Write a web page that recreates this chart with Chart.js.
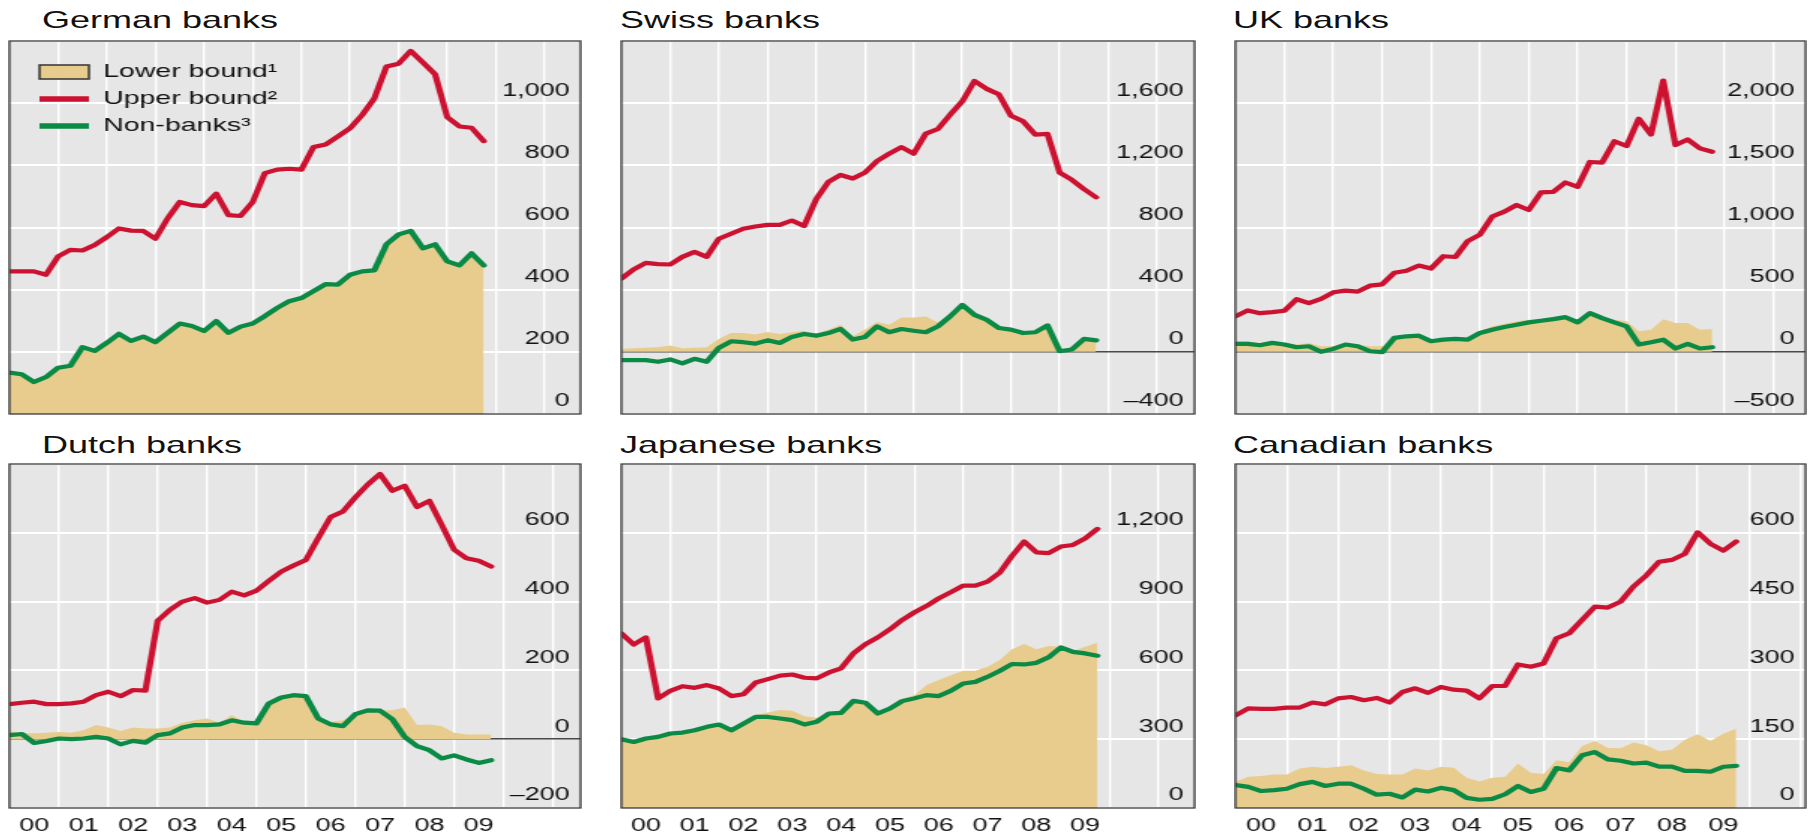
<!DOCTYPE html>
<html>
<head>
<meta charset="utf-8">
<script src="https://cdn.jsdelivr.net/npm/chart.js@4.4.1/dist/chart.umd.min.js"></script>
<style>
  body { margin: 0; background: #fff; overflow: hidden; }
  #page { position: relative; width: 1810px; height: 835px; }
  .ttl {
    position: absolute; font: 24px 'Liberation Sans', Arial, sans-serif; color: #111;
    line-height: 24px; white-space: nowrap; transform-origin: 0 0;
  }
  canvas { position: absolute; }
</style>
</head>
<body>
<div id="page"></div>
<script>
// x axis: quarterly points, years 2000-2009
const yearLabels = ['00', '01', '02', '03', '04', '05', '06', '07', '08', '09'];
const yearBreaks = [1, 2, 3, 4, 5, 6, 7, 8, 9, 10, 11];
const quarterPos = Array.from({ length: 40 }, (_, i) => i / 4);

// German banks
const germanLower = [133, 128, 103, 119, 149, 155, 215, 203, 229, 258, 235, 249, 231, 261, 291, 283, 267, 299, 261, 281, 291, 315, 341, 363, 373, 395, 418, 416, 448, 459, 462, 546, 578, 589, 533, 546, 491, 478, 517, 478];
const germanUpper = [459, 459, 459, 448, 507, 528, 526, 544, 569, 597, 590, 589, 564, 629, 682, 672, 669, 709, 640, 637, 682, 775, 786, 789, 786, 859, 867, 893, 919, 962, 1015, 1118, 1127, 1168, 1131, 1093, 955, 925, 921, 878];
const germanNonBanks = [133, 128, 103, 119, 149, 155, 215, 203, 229, 258, 235, 249, 231, 261, 291, 283, 267, 299, 261, 281, 291, 315, 341, 363, 373, 395, 418, 416, 448, 459, 462, 546, 578, 589, 533, 546, 491, 478, 517, 478];
const germanTicks = [0, 200, 400, 600, 800, 1000, 1200];

// Swiss banks
const swissLower = [19, 23, 26, 30, 40, 23, 26, 30, 83, 121, 121, 111, 128, 115, 126, 136, 115, 143, 174, 100, 143, 192, 174, 221, 221, 228, 189, 228, 302, 238, 206, 153, 153, 126, 132, 170, 4, 15, 83, 74];
const swissUpper = [472, 530, 572, 564, 562, 611, 643, 611, 728, 760, 792, 806, 817, 817, 845, 809, 983, 1094, 1138, 1115, 1153, 1228, 1275, 1317, 1275, 1404, 1434, 1526, 1611, 1743, 1692, 1658, 1519, 1483, 1398, 1402, 1153, 1107, 1047, 994];
const swissNonBanks = [-53, -53, -53, -64, -49, -74, -45, -64, 26, 68, 62, 53, 74, 57, 96, 115, 104, 121, 147, 79, 96, 164, 126, 147, 136, 126, 164, 228, 302, 238, 206, 153, 143, 121, 126, 170, 4, 15, 83, 74];
const swissTicks = [-400, 0, 400, 800, 1200, 1600, 2000];

// UK banks
const ukLower = [85, 85, 72, 85, 72, 59, 72, 45, 45, 66, 59, 45, 45, 117, 130, 136, 93, 104, 109, 104, 165, 205, 226, 245, 258, 263, 271, 285, 245, 311, 279, 258, 245, 165, 178, 263, 231, 231, 178, 184];
const ukUpper = [285, 333, 311, 319, 330, 423, 391, 426, 479, 492, 484, 532, 543, 636, 652, 694, 670, 769, 763, 891, 942, 1088, 1128, 1181, 1141, 1282, 1287, 1362, 1327, 1527, 1522, 1694, 1655, 1875, 1748, 2181, 1663, 1708, 1636, 1609];
const ukNonBanks = [64, 64, 53, 72, 59, 37, 45, 0, 24, 59, 45, 5, -3, 112, 125, 130, 85, 98, 104, 98, 152, 178, 200, 218, 237, 250, 263, 279, 237, 311, 271, 237, 205, 59, 77, 98, 27, 64, 27, 37];
const ukTicks = [-500, 0, 500, 1000, 1500, 2000, 2500];

// Dutch banks
const dutchLower = [24, 17, 17, 19, 21, 19, 26, 41, 34, 24, 34, 31, 31, 34, 48, 55, 60, 48, 70, 50, 46, 104, 121, 128, 125, 60, 50, 55, 73, 84, 84, 84, 92, 41, 43, 38, 19, 14, 14, 14];
const dutchUpper = [102, 106, 109, 102, 102, 104, 109, 128, 138, 125, 143, 141, 344, 376, 400, 410, 397, 405, 429, 418, 432, 460, 487, 505, 521, 585, 646, 662, 703, 740, 771, 722, 737, 675, 693, 623, 551, 526, 519, 502];
const dutchNonBanks = [12, 15, -11, -5, 2, 0, 2, 7, 2, -15, -5, -10, 12, 17, 34, 41, 41, 43, 55, 48, 46, 104, 121, 128, 125, 60, 43, 38, 73, 84, 83, 58, 7, -20, -32, -56, -47, -59, -69, -61];
const dutchTicks = [-200, 0, 200, 400, 600, 800];

// Japanese banks
const japanLower = [300, 288, 303, 310, 325, 329, 339, 354, 364, 347, 376, 405, 416, 427, 424, 400, 393, 412, 427, 467, 459, 415, 441, 478, 492, 536, 558, 579, 598, 598, 616, 645, 692, 715, 692, 706, 703, 684, 703, 721];
const japanUpper = [761, 713, 744, 478, 511, 531, 524, 536, 521, 488, 496, 547, 562, 577, 582, 568, 565, 591, 609, 674, 715, 744, 779, 820, 853, 881, 914, 941, 970, 970, 987, 1026, 1099, 1162, 1115, 1111, 1140, 1147, 1176, 1217];
const japanNonBanks = [300, 288, 303, 310, 325, 329, 339, 354, 364, 339, 368, 397, 397, 390, 383, 364, 376, 412, 415, 467, 459, 412, 434, 466, 478, 492, 488, 511, 543, 550, 572, 598, 628, 626, 633, 657, 700, 681, 674, 664];
const japanTicks = [0, 300, 600, 900, 1200, 1500];

// Canadian banks
const canadaLower = [57, 68, 70, 73, 73, 86, 90, 87, 90, 93, 82, 74, 73, 73, 86, 82, 90, 88, 66, 58, 66, 68, 97, 77, 74, 104, 100, 135, 146, 131, 130, 143, 137, 124, 127, 149, 161, 146, 162, 173];
const canadaUpper = [202, 217, 216, 216, 219, 219, 230, 226, 239, 242, 235, 240, 230, 253, 261, 251, 264, 258, 256, 239, 266, 266, 313, 308, 315, 370, 381, 410, 439, 437, 450, 483, 507, 537, 541, 554, 601, 576, 561, 581];
const canadaNonBanks = [50, 46, 37, 39, 42, 52, 57, 48, 53, 53, 42, 29, 31, 23, 40, 36, 44, 39, 22, 18, 20, 30, 48, 35, 42, 87, 82, 115, 122, 106, 103, 97, 99, 90, 90, 81, 81, 79, 90, 92];
const canadaTicks = [0, 150, 300, 450, 600, 750];

const TAN = '#e8cc8d';
const RED = '#cc1230';
const GREEN = '#0a8a45';
const STRETCH = 1.5;   // the picture is drawn wide: text and lines are stretched sideways

const colLeft = [9, 621, 1235];
const colRight = [580, 1194, 1805];
const rowTop = [41, 464];
const rowBottom = [414, 808];
const titleLeft = [42, 620, 1233];
const titleTop = [8, 433];

const panels = [
  { title: 'German banks', col: 0, row: 0, xMax: 11.74, lower: germanLower, upper: germanUpper, non: germanNonBanks, ticks: germanTicks, legend: true },
  { title: 'Swiss banks', col: 1, row: 0, xMax: 11.77, lower: swissLower, upper: swissUpper, non: swissNonBanks, ticks: swissTicks },
  { title: 'UK banks', col: 2, row: 0, xMax: 11.66, lower: ukLower, upper: ukUpper, non: ukNonBanks, ticks: ukTicks },
  { title: 'Dutch banks', col: 0, row: 1, xMax: 11.56, lower: dutchLower, upper: dutchUpper, non: dutchNonBanks, ticks: dutchTicks },
  { title: 'Japanese banks', col: 1, row: 1, xMax: 11.74, lower: japanLower, upper: japanUpper, non: japanNonBanks, ticks: japanTicks },
  { title: 'Canadian banks', col: 2, row: 1, xMax: 11.1, lower: canadaLower, upper: canadaUpper, non: canadaNonBanks, ticks: canadaTicks }
];

Chart.defaults.font.family = "'Liberation Sans', Arial, sans-serif";
Chart.defaults.color = '#111';

const xTickValues = [];
yearLabels.forEach((_, i) => xTickValues.push(i + 0.5));
yearBreaks.forEach(v => xTickValues.push(v));
xTickValues.sort((a, b) => a - b);

function fmt(v) {
  const s = String(Math.abs(v)).replace(/\B(?=(\d{3})+(?!\d))/g, ',');
  return v < 0 ? '\u2013' + s : s;
}

function pts(values) {
  return values.map((v, i) => ({ x: quarterPos[i], y: v }));
}

// grey plot background and dark frame
const plotFrame = {
  id: 'plotFrame',
  beforeDraw(chart) {
    const { ctx, chartArea: a } = chart;
    ctx.save();
    ctx.fillStyle = '#e6e6e6';
    ctx.fillRect(a.left, a.top, a.width, a.height);
    ctx.restore();
  },
  afterDraw(chart) {
    const { ctx, chartArea: a } = chart;
    ctx.save();
    ctx.strokeStyle = '#3a3a3a';
    ctx.lineWidth = 1.3;
    ctx.strokeRect(a.left, a.top, a.width, a.height);
    ctx.restore();
  }
};

// put the legend in the top-left corner inside the plot
const legendShift = {
  id: 'legendShift',
  afterLayout(chart) {
    const lg = chart.legend;
    if (lg && lg.options.display) {
      lg.left = chart.chartArea.left + 12;
      lg.top = chart.chartArea.top + 13.5;
    }
  }
};

const legendLook = [
  { fillStyle: TAN, strokeStyle: '#333', lineWidth: 1.5, pointStyle: 'rect' },
  { fillStyle: RED, strokeStyle: RED, lineWidth: 5.5, pointStyle: 'line' },
  { fillStyle: GREEN, strokeStyle: GREEN, lineWidth: 5.5, pointStyle: 'line' }
];

const page = document.getElementById('page');

panels.forEach(p => {
  const t = document.createElement('div');
  t.className = 'ttl';
  t.textContent = p.title;
  t.style.left = titleLeft[p.col] + 'px';
  t.style.top = titleTop[p.row] + 'px';
  t.style.transform = 'scaleX(' + STRETCH + ')';
  page.appendChild(t);

  const bottomRow = p.row === 1;
  const xAxisH = bottomRow ? 26 : 0;
  const fullW = colRight[p.col] - colLeft[p.col] + 3;
  const H = rowBottom[p.row] - rowTop[p.row] + 2 + xAxisH;
  const canvas = document.createElement('canvas');
  canvas.width = Math.round(fullW / STRETCH);
  canvas.height = H;
  canvas.style.left = (colLeft[p.col] - 1.5) + 'px';
  canvas.style.top = (rowTop[p.row] - 1) + 'px';
  canvas.style.width = fullW + 'px';
  canvas.style.height = H + 'px';
  page.appendChild(canvas);

  const yMin = p.ticks[0];
  const yMax = p.ticks[p.ticks.length - 1];

  new Chart(canvas, {
    type: 'line',
    data: {
      datasets: [
        { label: 'Lower bound\u00b9', data: pts(p.lower), fill: 'origin', backgroundColor: TAN,
          borderColor: 'rgba(0,0,0,0)', borderWidth: 0, pointRadius: 0, pointStyle: 'rect', order: 3 },
        { label: 'Upper bound\u00b2', data: pts(p.upper), fill: false, borderColor: RED, backgroundColor: RED,
          borderWidth: 4.2, pointRadius: 0, pointStyle: 'line', borderJoinStyle: 'round', borderCapStyle: 'round', order: 2 },
        { label: 'Non-banks\u00b3', data: pts(p.non), fill: false, borderColor: GREEN, backgroundColor: GREEN,
          borderWidth: 4.2, pointRadius: 0, pointStyle: 'line', borderJoinStyle: 'round', borderCapStyle: 'round', order: 1 }
      ]
    },
    options: {
      responsive: false,
      animation: false,
      devicePixelRatio: 1,
      layout: { padding: { left: 1, right: 1, top: 1, bottom: 1 } },
      scales: {
        x: {
          type: 'linear', min: 0, max: p.xMax,
          afterBuildTicks: s => { s.ticks = xTickValues.map(v => ({ value: v })); },
          afterFit: s => { s.paddingLeft = 0; s.paddingRight = 0; s.height = xAxisH; },
          grid: {
            color: c => Number.isInteger(c.tick.value) ? '#ffffff' : 'rgba(0,0,0,0)',
            lineWidth: 1.4, drawTicks: false
          },
          border: { display: false },
          ticks: {
            display: bottomRow, autoSkip: false, maxRotation: 0, padding: 7,
            font: { size: 18 }, color: '#111',
            callback: v => Number.isInteger(v) ? '' : yearLabels[Math.floor(v)]
          }
        },
        y: {
          type: 'linear', position: 'right', min: yMin, max: yMax,
          afterBuildTicks: s => { s.ticks = p.ticks.map(v => ({ value: v })); },
          afterFit: s => { s.width = 0; s.paddingTop = 0; s.paddingBottom = 0; },
          grid: {
            color: c => (c.tick.value === 0 && yMin < 0) ? '#4a4a4a' : '#ffffff',
            lineWidth: c => (c.tick.value === 0 && yMin < 0) ? 1.6 : 2,
            drawTicks: false
          },
          border: { display: false },
          ticks: {
            mirror: true, padding: -7.3, labelOffset: -12.5,
            font: { size: 18 }, color: '#111',
            callback: v => v === yMax ? '' : fmt(v)
          }
        }
      },
      plugins: {
        tooltip: { enabled: false },
        legend: p.legend ? {
          display: true, position: 'chartArea', align: 'start',
          labels: {
            usePointStyle: true, pointStyleWidth: 33, boxHeight: 14, padding: 8,
            font: { size: 19 }, color: '#111',
            sort: (a, b) => a.datasetIndex - b.datasetIndex,
            generateLabels: chart => Chart.defaults.plugins.legend.labels.generateLabels(chart)
              .map(item => Object.assign(item, legendLook[item.datasetIndex]))
          }
        } : { display: false }
      }
    },
    plugins: [plotFrame, legendShift]
  });
});
</script>
</body>
</html>
